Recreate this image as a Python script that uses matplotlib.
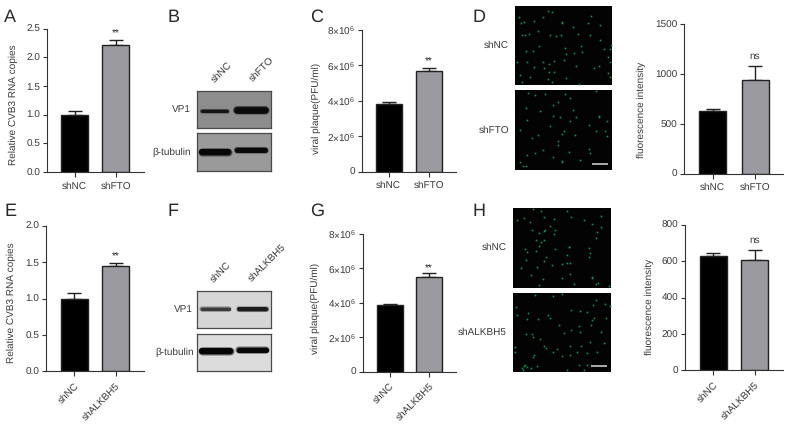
import matplotlib
matplotlib.use("Agg")
import matplotlib.pyplot as plt

W = 787
H = 428

plt.rcParams['font.family'] = ['Liberation Sans', 'DejaVu Sans']
plt.rcParams['mathtext.default'] = 'regular'
plt.rcParams['mathtext.fontset'] = 'custom'
plt.rcParams['mathtext.rm'] = 'Liberation Sans'
plt.rcParams['text.hinting'] = 'none'
plt.rcParams['text.hinting_factor'] = 1

TXT = '#3a3a3a'
GREY = '#9a9a9f'

# bar values
labels_top = ['shNC', 'shFTO']
labels_bot = ['shNC', 'shALKBH5']

a_vals = [1.0, 2.21]
a_err = [0.07, 0.10]
c_vals = [3.85e6, 5.70e6]
c_err = [0.08e6, 0.18e6]
d_vals = [630, 940]
d_err = [18, 138]
e_vals = [1.0, 1.44]
e_err = [0.07, 0.05]
g_vals = [3.85e6, 5.50e6]
g_err = [0.07e6, 0.22e6]
h_vals = [630, 605]
h_err = [15, 55]

ticks_ab = [0, 0.5, 1.0, 1.5, 2.0, 2.5]
ticks_e = [0, 0.5, 1.0, 1.5, 2.0]
ticks_plaque = [0, 2e6, 4e6, 6e6, 8e6]
plaque_labels = ['0', '2×10$^{6}$', '4×10$^{6}$', '6×10$^{6}$', '8×10$^{6}$']
ticks_d = [0, 500, 1000, 1500]
ticks_h = [0, 200, 400, 600, 800]

d1_spots = [(27,44),(33,62),(42,60),(36,100),(44,100),(57,97),(84,86),(72,58),(100,44),(115,28),(127,30),
            (157,60),(155,62),(120,98),(152,100),(138,102),(188,76),(203,97),(232,63),(243,42),(268,68),
            (240,100),(268,115),(300,140),(280,140),(303,130),(293,165),(298,180),(163,138),(168,155),
            (192,152),(214,150),(212,132),(88,132),(47,147),(70,147),(22,180),(52,180),(73,193),(100,180),
            (118,185),(132,175),(103,197),(133,208),(117,210),(250,197),(266,190),(168,226),(205,245),
            (30,218),(60,225),(113,230),(127,240),(293,212),(298,225),(37,238),(162,172),(198,190)]
d2_spots = [(47,60),(55,15),(75,22),(105,18),(165,18),(180,32),(145,43),(128,52),(90,70),(50,97),(187,68),
            (130,85),(150,88),(197,88),(180,98),(267,83),(265,88),(290,98),(235,112),(120,115),(85,140),
            (30,125),(160,130),(155,137),(145,160),(258,130),(290,145),(195,140),(100,185),(145,170),
            (50,200),(75,195),(130,205),(155,222),(155,218),(48,232),(40,234),(210,215),(235,182),(240,195),
            (258,10),(30,220),(285,130),(65,150),(175,190)]
h1_spots = [(22,45),(42,38),(70,12),(92,18),(60,50),(102,37),(130,42),(170,18),(183,35),(220,45),(243,57),
            (272,65),(270,32),(118,62),(103,75),(100,78),(65,76),(135,75),(88,85),(130,87),(102,105),(92,112),
            (88,122),(77,105),(45,132),(52,140),(77,137),(135,130),(177,125),(176,127),(255,100),(260,80),
            (235,128),(238,142),(170,150),(235,155),(47,165),(100,168),(108,155),(32,187),(80,185),(125,180),
            (155,175),(178,172),(170,172),(62,210),(97,222),(155,218),(178,207),(243,215),(243,218),(262,232),
            (255,235),(192,235),(88,238),(295,243)]
h2_spots = [(155,12),(75,15),(128,18),(18,50),(55,68),(22,75),(50,85),(83,85),(113,75),(120,83),(182,60),
            (208,62),(228,65),(248,45),(255,30),(283,40),(297,47),(285,83),(250,82),(245,88),(145,105),(240,105),
            (205,108),(183,120),(210,125),(160,130),(272,125),(48,132),(67,133),(70,140),(90,148),(100,168),
            (108,175),(15,170),(15,185),(128,185),(140,178),(180,168),(212,168),(200,185),(228,188),(178,195),
            (155,197),(260,185),(237,155),(68,200),(72,195),(42,228),(35,235),(45,225),(50,232),(62,233),
            (38,240),(80,228),(170,240),(228,224),(205,225),(220,240),(280,158)]

fig = plt.figure(figsize=(W / 100, H / 100), dpi=100)


def px_axes(left, top, right, bottom):
    return fig.add_axes([left / W, 1 - bottom / H, (right - left) / W, (bottom - top) / H])


def put(x, y, s, **kw):
    kw.setdefault('color', TXT)
    kw.setdefault('fontsize', 7.4)
    kw.setdefault('va', 'center')
    fig.text(x / W, 1 - y / H, s, **kw)


def bar_panel(box, centers, bw, vals, errs, names, ymax, ticks, ylab, ylab_xy, mark, mark_gap,
              ticklabels=None, rotate=False):
    left, top, right, bottom = box
    ax = px_axes(left, top, right, bottom)
    step = centers[1] - centers[0]
    ax.set_xlim((left - centers[0]) / step, (right - centers[0]) / step)
    ax.set_ylim(0, ymax)
    colors = ['black', GREY]
    ax.bar([0, 1], vals, width=bw / step, color=colors, edgecolor='#222222', linewidth=1.0, zorder=2)
    ax.errorbar([0, 1], vals, yerr=[[0, 0], errs], fmt='none', ecolor='#222222', elinewidth=1.0,
                capsize=4.8, capthick=1.0, zorder=1)
    gap = mark_gap / (bottom - top) * ymax
    if mark == '**':
        ax.text(1, vals[1] + errs[1] + gap - 1.5 / (bottom - top) * ymax, mark, ha='center', va='center',
                fontsize=7.5, color='#222222')
    else:
        ax.text(1, vals[1] + errs[1] + gap, mark, ha='center', va='center', fontsize=7.4, color=TXT)
    for s in ['top', 'right']:
        ax.spines[s].set_visible(False)
    for s in ['left', 'bottom']:
        ax.spines[s].set_color('#333333')
        ax.spines[s].set_linewidth(0.8)
    ax.set_yticks(ticks)
    ax.set_xticks([0, 1])
    if ticklabels is None:
        ticklabels = [str(t) for t in ticks]
    ax.set_yticklabels(ticklabels, fontsize=7.4, color=TXT)
    if rotate:
        ax.set_xticklabels(names, fontsize=7.4, color=TXT, rotation=45, ha='right', rotation_mode='anchor')
    else:
        ax.set_xticklabels(names, fontsize=7.4, color=TXT)
    ax.tick_params(axis='y', length=3.2, width=0.8, color='#333333', pad=1.5)
    ax.tick_params(axis='x', length=3.8, width=0.8, color='#333333', pad=3)
    put(ylab_xy[0], ylab_xy[1], ylab, rotation=90, ha='center')
    return ax


def blot(box, bg, bands, xlim, ylim):
    ax = px_axes(*box)
    ax.set_facecolor(bg)
    ax.set_xlim(*xlim)
    ax.set_ylim(ylim[1], ylim[0])
    ax.set_xticks([])
    ax.set_yticks([])
    for s in ax.spines.values():
        s.set_color('#4a4a4a')
        s.set_linewidth(0.9)
    for x0, x1, y, thick, col in bands:
        w = thick / 3 * 0.72
        ax.plot([x0, x1], [y, y], color=col, lw=w + 1.6, alpha=0.25, solid_capstyle='round')
        ax.plot([x0, x1], [y, y], color=col, lw=w + 0.7, alpha=0.45, solid_capstyle='round')
        ax.plot([x0, x1], [y, y], color=col, lw=w, solid_capstyle='round')


def field(box, spots, xlim, ylim, scale=None):
    ax = px_axes(*box)
    ax.set_facecolor('#030303')
    ax.set_xlim(*xlim)
    ax.set_ylim(ylim[1], ylim[0])
    ax.set_xticks([])
    ax.set_yticks([])
    for s in ax.spines.values():
        s.set_visible(False)
    xs = [p[0] for p in spots]
    ys = [p[1] for p in spots]
    ax.scatter(xs, ys, s=3.5, color='#0d5e30', alpha=0.5, linewidths=0)
    ax.scatter(xs, ys, s=0.9, color='#1fa556', alpha=0.85, linewidths=0)
    if scale:
        ax.plot(scale[:2], [scale[2], scale[2]], color='#c8c8c8', lw=1.2, solid_capstyle='butt')


# panels A, C, D and the fluorescence chart, top row
bar_panel((46.7, 28.7, 144, 172), [74.7, 115.7], 27, a_vals, a_err, labels_top, 2.5, ticks_ab,
          'Relative CVB3 RNA copies', (13, 105), '**', 7,
          ticklabels=['0.0', '0.5', '1.0', '1.5', '2.0', '2.5'])
bar_panel((361.7, 30, 456, 171.7), [388.5, 429], 26, c_vals, c_err, labels_top, 8e6, ticks_plaque,
          'viral plaque(PFU/ml)', (316.7, 108), '**', 7, ticklabels=plaque_labels)
bar_panel((684, 24.3, 783, 173.7), [712.5, 755], 27, d_vals, d_err, labels_top, 1500, ticks_d,
          'fluorescence intensity', (641.7, 110), 'ns', 10)

# bottom row
bar_panel((46, 225.7, 144, 371.3), [74, 115.5], 27, e_vals, e_err, labels_bot, 2.0, ticks_e,
          'Relative CVB3 RNA copies', (11.7, 303), '**', 8,
          ticklabels=['0.0', '0.5', '1.0', '1.5', '2.0'], rotate=True)
bar_panel((363, 233.7, 456, 371.7), [389.5, 429], 26, g_vals, g_err, labels_bot, 8e6, ticks_plaque,
          'viral plaque(PFU/ml)', (315.7, 308), '**', 6, ticklabels=plaque_labels, rotate=True)
bar_panel((685, 224.7, 783, 370.3), [713, 754.5], 27, h_vals, h_err, labels_bot, 800, ticks_h,
          'fluorescence intensity', (649, 307), 'ns', 10, rotate=True)

# western blots
blot((197, 90.7, 270.7, 127.7), '#8d8d8d',
     [(36, 112, 78, 9, '#141414'), (142, 224, 76, 20, '#0a0a0a')], (22, 242), (18, 128))
blot((197, 133.3, 270.7, 170.7), '#9a9a9a',
     [(36, 116, 201, 19, '#070707'), (142, 226, 197, 15, '#0a0a0a')], (22, 242), (146, 258))
blot((197, 291.3, 271, 328.3), '#d6d6d6',
     [(38, 116, 71, 10, '#3a3a3a'), (148, 228, 70, 12, '#1c1c1c')], (22, 242), (18, 128))
blot((197, 334.3, 271, 371), '#dcdcdc',
     [(38, 120, 198, 19, '#050505'), (146, 228, 195, 16, '#080808')], (22, 242), (148, 258))

# micrographs
field((515, 6, 612, 85), d1_spots, (15, 305), (12, 248))
field((515, 90.3, 612, 170), d2_spots, (15, 305), (8, 245), scale=(245, 292, 227))
field((513.3, 208.3, 610.7, 287.7), h1_spots, (10, 300), (10, 247))
field((513.3, 293, 610.7, 372.3), h2_spots, (10, 300), (8, 247), scale=(240, 288, 228))

# blot and micrograph labels
put(222, 72, 'shNC', rotation=45, ha='center')
put(262, 69, 'shFTO', rotation=45, ha='center')
put(221, 272, 'shNC', rotation=45, ha='center')
put(267, 263, 'shALKBH5', rotation=45, ha='center')
put(190.7, 109, 'VP1', ha='right')
put(191, 152, 'β-tubulin', ha='right')
put(193, 309, 'VP1', ha='right')
put(193.7, 352, 'β-tubulin', ha='right')
put(509, 45, 'shNC', ha='right')
put(509, 130, 'shFTO', ha='right')
put(506.7, 247, 'shNC', ha='right')
put(506.7, 332, 'shALKBH5', ha='right')

# panel letters
for letter, x, y in [('A', 4, 17), ('B', 168, 17), ('C', 310, 17), ('D', 473, 17),
                     ('E', 5, 211), ('F', 168, 211), ('G', 310, 211), ('H', 473, 211)]:
    put(x, y, letter, fontsize=13, ha='left', color='#2a2a2a')

fig.savefig('out.png', dpi=100)
